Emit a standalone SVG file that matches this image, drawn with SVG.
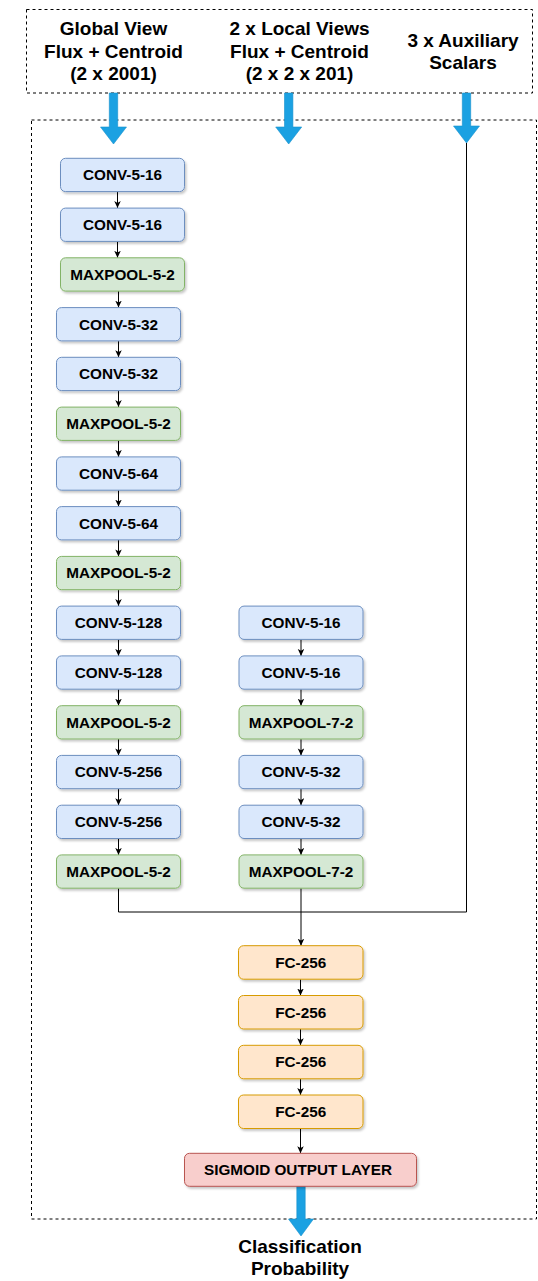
<svg xmlns="http://www.w3.org/2000/svg" width="538" height="1281" viewBox="0 0 538 1281">
<style>
.dash{fill:none;stroke:#000;stroke-width:1;stroke-dasharray:3 3}
.hdr{font-family:"Liberation Sans",Arial,sans-serif;font-weight:bold;font-size:19px;fill:#000;text-anchor:middle}
.lbl{font-family:"Liberation Sans",Arial,sans-serif;font-weight:bold;font-size:15.3px;fill:#000;text-anchor:middle}
.b{fill:#dae8fc;stroke:#6c8ebf;stroke-width:1}
.g{fill:#d5e8d4;stroke:#82b366;stroke-width:1}
.o{fill:#ffe6cc;stroke:#d79b00;stroke-width:1}
.r{fill:#f8cecc;stroke:#b85450;stroke-width:1}
.node rect{filter:url(#sh)}
.edge{fill:none;stroke:#000;stroke-width:1}
.big{fill:#1ba1e2;stroke:#1590cc;stroke-width:0.6}
</style>
<defs>
<filter id="sh" x="-10%" y="-20%" width="130%" height="160%">
<feDropShadow dx="1.5" dy="2" stdDeviation="1" flood-color="#000" flood-opacity="0.22"/>
</filter>
<marker id="ah" markerUnits="userSpaceOnUse" markerWidth="8" markerHeight="8" refX="7" refY="3.25" orient="auto">
<path d="M0,0 L7,3.25 L0,6.5 L1.8,3.25 z" fill="#000"/>
</marker>
</defs>

<g id="input-box">
<rect class="dash" x="26.5" y="9.5" width="506" height="83.5"/>
<text class="hdr" x="113.5" y="35">Global View</text>
<text class="hdr" x="113.5" y="57.5">Flux + Centroid</text>
<text class="hdr" x="113.5" y="80">(2 x 2001)</text>
<text class="hdr" x="299.5" y="35">2 x Local Views</text>
<text class="hdr" x="299.5" y="57.5">Flux + Centroid</text>
<text class="hdr" x="299.5" y="80">(2 x 2 x 201)</text>
<text class="hdr" x="463" y="46.5">3 x Auxiliary</text>
<text class="hdr" x="463" y="69">Scalars</text>
</g>

<g id="network-box">
<rect class="dash" x="31.5" y="120" width="505" height="1099"/>
</g>

<g id="connectors">
<path class="big" d="M109.3,93 H117.7 V127 H126.5 L113.5,144 L100.5,127 H109.3 Z"/>
<path class="big" d="M284.5,93 H292.9 V127 H301.7 L288.7,144 L275.7,127 H284.5 Z"/>
<path class="big" d="M462.3,93 H470.7 V126 H479.5 L466.5,143 L453.5,126 H462.3 Z"/>
<path class="big" d="M296.8,1186 H305.2 V1219 H313.5 L301,1236 L288.5,1219 H296.8 Z"/>

<line class="edge" x1="117.5" y1="191.6" x2="117.5" y2="208.1" marker-end="url(#ah)"/>
<line class="edge" x1="117.5" y1="241.4" x2="117.5" y2="257.8" marker-end="url(#ah)"/>
<line class="edge" x1="118.5" y1="291.1" x2="118.5" y2="307.6" marker-end="url(#ah)"/>
<line class="edge" x1="118.5" y1="340.9" x2="118.5" y2="357.3" marker-end="url(#ah)"/>
<line class="edge" x1="118.5" y1="390.6" x2="118.5" y2="407.1" marker-end="url(#ah)"/>
<line class="edge" x1="118.5" y1="440.4" x2="118.5" y2="456.9" marker-end="url(#ah)"/>
<line class="edge" x1="118.5" y1="490.2" x2="118.5" y2="506.6" marker-end="url(#ah)"/>
<line class="edge" x1="118.5" y1="539.9" x2="118.5" y2="556.4" marker-end="url(#ah)"/>
<line class="edge" x1="118.5" y1="589.7" x2="118.5" y2="606.1" marker-end="url(#ah)"/>
<line class="edge" x1="118.5" y1="639.4" x2="118.5" y2="655.9" marker-end="url(#ah)"/>
<line class="edge" x1="118.5" y1="689.2" x2="118.5" y2="705.7" marker-end="url(#ah)"/>
<line class="edge" x1="118.5" y1="739" x2="118.5" y2="755.4" marker-end="url(#ah)"/>
<line class="edge" x1="118.5" y1="788.7" x2="118.5" y2="805.2" marker-end="url(#ah)"/>
<line class="edge" x1="118.5" y1="838.5" x2="118.5" y2="854.9" marker-end="url(#ah)"/>

<line class="edge" x1="301" y1="639.4" x2="301" y2="655.9" marker-end="url(#ah)"/>
<line class="edge" x1="301" y1="689.2" x2="301" y2="705.7" marker-end="url(#ah)"/>
<line class="edge" x1="301" y1="739" x2="301" y2="755.4" marker-end="url(#ah)"/>
<line class="edge" x1="301" y1="788.7" x2="301" y2="805.2" marker-end="url(#ah)"/>
<line class="edge" x1="301" y1="838.5" x2="301" y2="854.9" marker-end="url(#ah)"/>

<polyline class="edge" points="118.5,888.2 118.5,912 466.5,912 466.5,143"/>
<line class="edge" x1="301" y1="888.2" x2="301" y2="945.7" marker-end="url(#ah)"/>

<line class="edge" x1="300.5" y1="979.2" x2="300.5" y2="995.5" marker-end="url(#ah)"/>
<line class="edge" x1="300.5" y1="1029" x2="300.5" y2="1045.3" marker-end="url(#ah)"/>
<line class="edge" x1="300.5" y1="1078.8" x2="300.5" y2="1095" marker-end="url(#ah)"/>
<line class="edge" x1="300.5" y1="1128.5" x2="300.5" y2="1153.3" marker-end="url(#ah)"/>
</g>

<g id="g0" class="node"><rect class="b" x="60.5" y="158.3" width="124" height="33.3" rx="5"/><text class="lbl" x="122.5" y="180.3">CONV-5-16</text></g>
<g id="g1" class="node"><rect class="b" x="60.5" y="208.1" width="124" height="33.3" rx="5"/><text class="lbl" x="122.5" y="230.1">CONV-5-16</text></g>
<g id="g2" class="node"><rect class="g" x="60.5" y="257.8" width="124" height="33.3" rx="5"/><text class="lbl" x="122.5" y="279.8">MAXPOOL-5-2</text></g>
<g id="g3" class="node"><rect class="b" x="56.5" y="307.6" width="124" height="33.3" rx="5"/><text class="lbl" x="118.5" y="329.6">CONV-5-32</text></g>
<g id="g4" class="node"><rect class="b" x="56.5" y="357.3" width="124" height="33.3" rx="5"/><text class="lbl" x="118.5" y="379.3">CONV-5-32</text></g>
<g id="g5" class="node"><rect class="g" x="56.5" y="407.1" width="124" height="33.3" rx="5"/><text class="lbl" x="118.5" y="429.1">MAXPOOL-5-2</text></g>
<g id="g6" class="node"><rect class="b" x="56.5" y="456.9" width="124" height="33.3" rx="5"/><text class="lbl" x="118.5" y="478.9">CONV-5-64</text></g>
<g id="g7" class="node"><rect class="b" x="56.5" y="506.6" width="124" height="33.3" rx="5"/><text class="lbl" x="118.5" y="528.6">CONV-5-64</text></g>
<g id="g8" class="node"><rect class="g" x="56.5" y="556.4" width="124" height="33.3" rx="5"/><text class="lbl" x="118.5" y="578.4">MAXPOOL-5-2</text></g>
<g id="g9" class="node"><rect class="b" x="56.5" y="606.1" width="124" height="33.3" rx="5"/><text class="lbl" x="118.5" y="628.1">CONV-5-128</text></g>
<g id="g10" class="node"><rect class="b" x="56.5" y="655.9" width="124" height="33.3" rx="5"/><text class="lbl" x="118.5" y="677.9">CONV-5-128</text></g>
<g id="g11" class="node"><rect class="g" x="56.5" y="705.7" width="124" height="33.3" rx="5"/><text class="lbl" x="118.5" y="727.7">MAXPOOL-5-2</text></g>
<g id="g12" class="node"><rect class="b" x="56.5" y="755.4" width="124" height="33.3" rx="5"/><text class="lbl" x="118.5" y="777.4">CONV-5-256</text></g>
<g id="g13" class="node"><rect class="b" x="56.5" y="805.2" width="124" height="33.3" rx="5"/><text class="lbl" x="118.5" y="827.2">CONV-5-256</text></g>
<g id="g14" class="node"><rect class="g" x="56.5" y="854.9" width="124" height="33.3" rx="5"/><text class="lbl" x="118.5" y="876.9">MAXPOOL-5-2</text></g>

<g id="l0" class="node"><rect class="b" x="239" y="606.1" width="124" height="33.3" rx="5"/><text class="lbl" x="301" y="628.1">CONV-5-16</text></g>
<g id="l1" class="node"><rect class="b" x="239" y="655.9" width="124" height="33.3" rx="5"/><text class="lbl" x="301" y="677.9">CONV-5-16</text></g>
<g id="l2" class="node"><rect class="g" x="239" y="705.7" width="124" height="33.3" rx="5"/><text class="lbl" x="301" y="727.7">MAXPOOL-7-2</text></g>
<g id="l3" class="node"><rect class="b" x="239" y="755.4" width="124" height="33.3" rx="5"/><text class="lbl" x="301" y="777.4">CONV-5-32</text></g>
<g id="l4" class="node"><rect class="b" x="239" y="805.2" width="124" height="33.3" rx="5"/><text class="lbl" x="301" y="827.2">CONV-5-32</text></g>
<g id="l5" class="node"><rect class="g" x="239" y="854.9" width="124" height="33.3" rx="5"/><text class="lbl" x="301" y="876.9">MAXPOOL-7-2</text></g>

<g id="fc0" class="node"><rect class="o" x="238.5" y="945.7" width="124.5" height="33.5" rx="5"/><text class="lbl" x="300.7" y="967.8">FC-256</text></g>
<g id="fc1" class="node"><rect class="o" x="238.5" y="995.5" width="124.5" height="33.5" rx="5"/><text class="lbl" x="300.7" y="1017.6">FC-256</text></g>
<g id="fc2" class="node"><rect class="o" x="238.5" y="1045.3" width="124.5" height="33.5" rx="5"/><text class="lbl" x="300.7" y="1067.4">FC-256</text></g>
<g id="fc3" class="node"><rect class="o" x="238.5" y="1095" width="124.5" height="33.5" rx="5"/><text class="lbl" x="300.7" y="1117.1">FC-256</text></g>

<g id="sigmoid" class="node"><rect class="r" x="184.5" y="1153.3" width="232" height="33" rx="5"/><text class="lbl" x="298" y="1175.3">SIGMOID OUTPUT LAYER</text></g>

<g id="output">
<text class="hdr" x="300" y="1253">Classification</text>
<text class="hdr" x="300" y="1275">Probability</text>
</g>
</svg>
